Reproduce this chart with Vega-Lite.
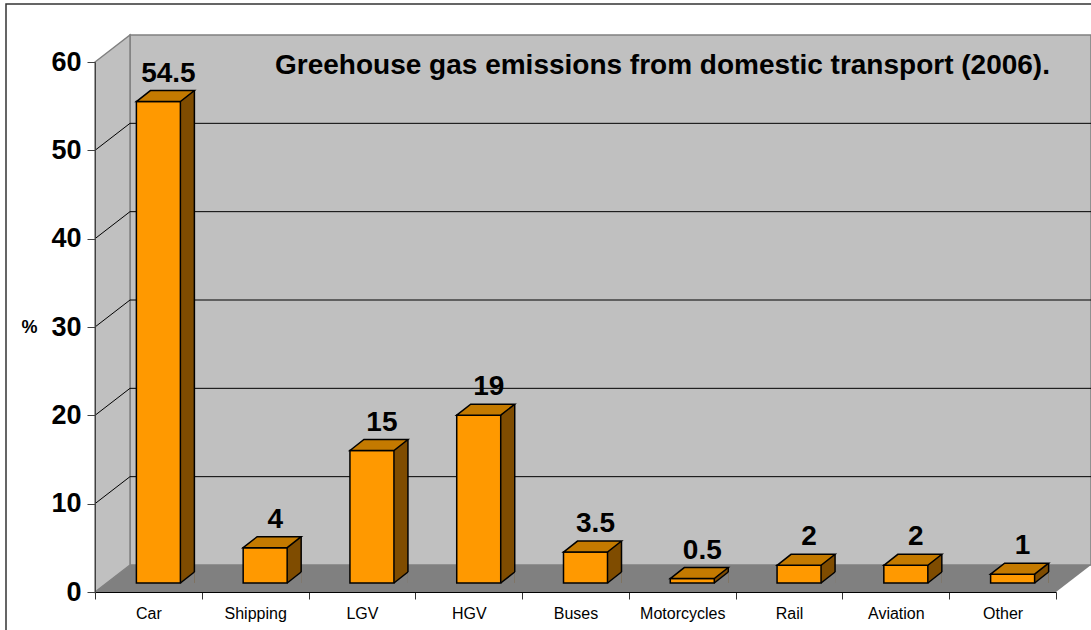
{
  "$schema": "https://vega.github.io/schema/vega-lite/v6.json",
  "width": 961,
  "height": 530,
  "autosize": {"type": "none"},
  "padding": {"left": 95, "top": 62, "right": 35, "bottom": 38},
  "background": "white",
  "config": {"view": {"stroke": null}, "font": "Liberation Sans"},
  "title": {
    "text": "Greehouse gas emissions from domestic transport (2006).",
    "font": "Liberation Sans",
    "fontSize": 28,
    "fontWeight": "bold",
    "color": "black",
    "anchor": "middle",
    "dx": 87,
    "offset": -77
  },
  "datasets": {
    "bars": [
      {"Category": "Car", "value": 54.5},
      {"Category": "Shipping", "value": 4},
      {"Category": "LGV", "value": 15},
      {"Category": "HGV", "value": 19},
      {"Category": "Buses", "value": 3.5},
      {"Category": "Motorcycles", "value": 0.5},
      {"Category": "Rail", "value": 2},
      {"Category": "Aviation", "value": 2},
      {"Category": "Other", "value": 1}
    ],
    "grid": [{"v": 10}, {"v": 20}, {"v": 30}, {"v": 40}, {"v": 50}],
    "one": [{}]
  },
  "data": {"name": "bars"},
  "layer": [
    {
      "data": {"name": "one"},
      "mark": {"type": "rect", "fill": "#C0C0C0", "stroke": "#808080", "strokeWidth": 1.5, "xOffset": 35, "x2Offset": 35, "yOffset": -27, "y2Offset": -27},
      "encoding": {
        "x": {"value": 0},
        "x2": {"value": "width"},
        "y": {"datum": 60, "type": "quantitative"},
        "y2": {"datum": 0}
      }
    },
    {
      "data": {"name": "one"},
      "mark": {"type": "point", "shape": "M0,0 L0,-530 L35,-557 L35,-27 Z", "size": 4, "filled": true, "fill": "#C0C0C0", "stroke": "#808080", "strokeWidth": 1.5, "opacity": 1},
      "encoding": {
        "x": {"value": 0},
        "y": {"datum": 0, "type": "quantitative"}
      }
    },
    {
      "data": {"name": "one"},
      "mark": {"type": "point", "shape": "M0,0 L961,0 L996,-27 L35,-27 Z", "size": 4, "filled": true, "fill": "#808080", "strokeWidth": 0, "opacity": 1},
      "encoding": {
        "x": {"value": 0},
        "y": {"datum": 0, "type": "quantitative"}
      }
    },
    {
      "data": {"name": "grid"},
      "mark": {"type": "rule", "color": "black", "strokeWidth": 1, "xOffset": 35, "x2Offset": 35, "yOffset": -27},
      "encoding": {
        "x": {"value": 0},
        "x2": {"value": "width"},
        "y": {"field": "v", "type": "quantitative"}
      }
    },
    {
      "data": {"name": "grid"},
      "mark": {"type": "rule", "color": "black", "strokeWidth": 1, "x2Offset": 35, "y2Offset": -27},
      "encoding": {
        "x": {"value": 0},
        "x2": {"value": 0},
        "y": {"field": "v", "type": "quantitative"},
        "y2": {"field": "v"}
      }
    },
    {
      "mark": {"type": "bar", "width": 14, "xOffset": 39, "yOffset": -20, "y2Offset": -9, "fill": "#7F4C00", "strokeWidth": 0},
      "encoding": {
        "x": {"field": "Category", "type": "nominal"},
        "y": {"field": "value", "type": "quantitative"},
        "y2": {"datum": 0}
      }
    },
    {
      "mark": {"type": "point", "shape": "M22,0 L36,-11 L36,0 Z", "size": 4, "filled": true, "fill": "#808080", "strokeWidth": 0, "opacity": 1, "xOffset": 10, "yOffset": -9},
      "encoding": {
        "x": {"field": "Category", "type": "nominal"},
        "y": {"datum": 0, "type": "quantitative"}
      }
    },
    {
      "mark": {"type": "point", "shape": "M22,0 L36,-11", "size": 4, "filled": false, "fillOpacity": 0, "stroke": "black", "strokeWidth": 1.5, "opacity": 1, "xOffset": 10, "yOffset": -9},
      "encoding": {
        "x": {"field": "Category", "type": "nominal"},
        "y": {"datum": 0, "type": "quantitative"}
      }
    },
    {
      "mark": {"type": "rule", "color": "black", "strokeWidth": 1.5, "xOffset": 46, "yOffset": -20, "y2Offset": -20},
      "encoding": {
        "x": {"field": "Category", "type": "nominal"},
        "y": {"field": "value", "type": "quantitative"},
        "y2": {"datum": 0}
      }
    },
    {
      "mark": {"type": "bar", "width": 44, "xOffset": 10, "yOffset": -9, "y2Offset": -9, "fill": "#FF9900", "stroke": "black", "strokeWidth": 1.5},
      "encoding": {
        "x": {
          "field": "Category",
          "type": "nominal",
          "sort": null,
          "scale": {"type": "band", "paddingInner": 0, "paddingOuter": 0, "domain": ["Car", "Shipping", "LGV", "HGV", "Buses", "Motorcycles", "Rail", "Aviation", "Other"]},
          "axis": {"title": null, "tickBand": "extent", "labelAngle": 0, "labelAlign": "center", "labelBaseline": "top", "labelFont": "Liberation Sans", "labelFontSize": 16, "labelColor": "black", "labelPadding": 6, "domainColor": "black", "domainWidth": 1, "tickColor": "#333333", "tickSize": 7, "grid": false, "zindex": 1}
        },
        "y": {
          "field": "value",
          "type": "quantitative",
          "scale": {"domain": [0, 60], "nice": false, "zero": true},
          "axis": {"values": [0, 10, 20, 30, 40, 50, 60], "grid": false, "title": "%", "titleAngle": 0, "titleFont": "Liberation Sans", "titleFontSize": 18, "titleFontWeight": "bold", "titleColor": "black", "titleX": -58, "titleY": 265, "titleAlign": "right", "titleBaseline": "middle", "labelFont": "Liberation Sans", "labelFontSize": 27, "labelFontWeight": "bold", "labelColor": "black", "labelPadding": 6, "tickSize": 8, "tickColor": "#404040", "domainColor": "#404040", "zindex": 1}
        },
        "y2": {"datum": 0}
      }
    },
    {
      "mark": {"type": "point", "shape": "M-22,0 L-8,-11 L36,-11 L22,0 Z", "size": 4, "filled": true, "fill": "#C47A00", "stroke": "black", "strokeWidth": 1.5, "opacity": 1, "xOffset": 10, "yOffset": -9},
      "encoding": {
        "x": {"field": "Category", "type": "nominal"},
        "y": {"field": "value", "type": "quantitative"}
      }
    },
    {
      "mark": {"type": "text", "font": "Liberation Sans", "fontSize": 28, "fontWeight": "bold", "color": "black", "align": "center", "baseline": "alphabetic", "xOffset": 20, "yOffset": -9, "dy": -20},
      "encoding": {
        "x": {"field": "Category", "type": "nominal"},
        "y": {"field": "value", "type": "quantitative"},
        "text": {"field": "value", "type": "nominal"}
      }
    },
    {
      "data": {"name": "one"},
      "mark": {"type": "rect", "fill": null, "fillOpacity": 0, "stroke": "#333333", "strokeWidth": 1.5, "xOffset": -89, "x2Offset": 60, "yOffset": -58, "y2Offset": 60},
      "encoding": {
        "x": {"value": 0},
        "x2": {"value": "width"},
        "y": {"value": 0},
        "y2": {"value": "height"}
      }
    }
  ]
}
